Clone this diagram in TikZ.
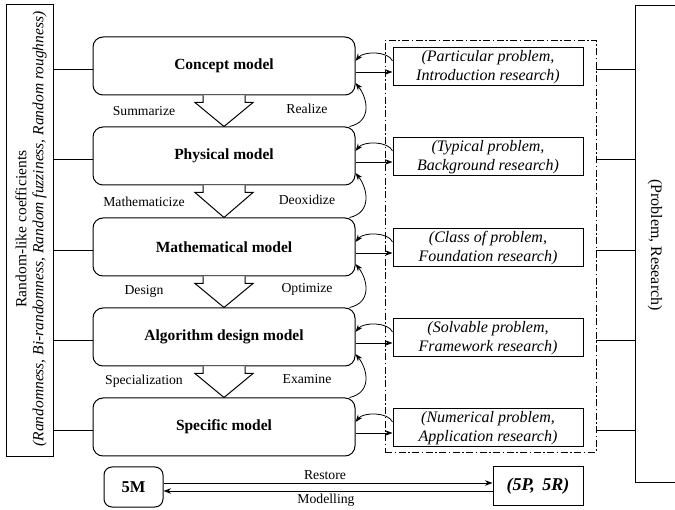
\documentclass[tikz,border=0pt]{standalone}
\usepackage{fontspec}
\setmainfont{Liberation Serif}
\usetikzlibrary{arrows.meta}
\begin{document}
\begin{tikzpicture}[x=1pt,y=1pt,
  mbox/.style={draw, rounded corners=10pt, minimum width=262pt, minimum height=58pt,
    inner sep=0pt, line width=1pt, font=\fontsize{15.5}{18}\selectfont\bfseries},
  pbox/.style={draw, fill=white, minimum width=190pt, minimum height=38pt, inner sep=0pt,
    align=center, line width=1pt, font=\fontsize{16}{19.5}\selectfont\itshape},
  lbl/.style={inner sep=0pt, font=\fontsize{13.7}{16}\selectfont},
  ln/.style={line width=0.8pt},
  arr/.style={ln, -{Stealth[length=7.5pt,width=5.5pt]}},
  hollow/.style={draw, fill=white, line width=1pt, line join=miter},
  grpbox/.style={draw, line width=0.8pt, dash pattern=on 7pt off 2.5pt on 1.5pt off 2.5pt}
]
\useasboundingbox (0,0) rectangle (675,-510);

% coefficient column on the left
\node[draw, line width=1pt, minimum width=47pt, minimum height=452pt, inner sep=0pt] (lbox) at (29.5,-231) {};
\node[rotate=90, align=center, inner sep=0pt, font=\fontsize{15.5}{17}\selectfont] (ltext) at (31,-229)
  {Random-like coefficients\\{\itshape (Randomness,\ Bi-randomness,\ Random fuzziness,\ Random roughness)}};

% the five models
\node[mbox] (m1) at (224,-66)  {Concept model};
\node[mbox] (m2) at (224,-156) {Physical model};
\node[mbox] (m3) at (224,-247) {Mathematical model};
\node[mbox] (m4) at (224,-337) {Algorithm design model};
\node[mbox] (m5) at (224,-427) {Specific model};

% problem / research group
\node[grpbox, minimum width=211pt, minimum height=412pt, inner sep=0pt] (grp) at (490.5,-246) {};
\node[pbox] (p1) at (488,-67)  {(Particular problem,\\Introduction research)};
\node[pbox] (p2) at (488,-157) {(Typical problem,\\Background research)};
\node[pbox] (p3) at (488,-248) {(Class of problem,\\Foundation research)};
\node[pbox] (p4) at (488,-338) {(Solvable problem,\\Framework research)};
\node[pbox] (p5) at (488,-428) {(Numerical problem,\\Application research)};

% bracket on the right
\coordinate (bt0) at (675,-5);
\coordinate (bt) at (635,-5);
\coordinate (bb) at (635,-482);
\coordinate (bb0) at (675,-482);
\draw[ln] (bt0) -- (bt) -- (bb) -- (bb0);
\node[rotate=-90, inner sep=0pt, font=\fontsize{16}{18}\selectfont] (prtext) at (655,-245) {(Problem,\ Research)};

% links from the coefficient column and to the bracket
\foreach \m in {m1,m2,m3,m4,m5}
  \draw[ln] ([yshift=-3pt]\m.west) -- ([yshift=-3pt]\m.west -| lbox.east);
\foreach \p in {p1,p2,p3,p4,p5}
  \draw[ln] ([yshift=-2pt]\p.center -| grp.east) -- ([yshift=-2pt]\p.center -| bt);

% hollow arrows between successive models
\foreach \a/\b in {m1/m2,m2/m3,m3/m4,m4/m5}
  \draw[hollow] ([xshift=-21pt]\a.south) -- ([xshift=-21pt,yshift=-7pt]\a.south)
    -- ([xshift=-29pt,yshift=-7pt]\a.south) -- (\b.north)
    -- ([xshift=29pt,yshift=-7pt]\a.south) -- ([xshift=21pt,yshift=-7pt]\a.south)
    -- ([xshift=21pt]\a.south);

% return arcs between successive models
\foreach \a/\b in {m1/m2,m2/m3,m3/m4,m4/m5}
  \draw[arr] ([xshift=-6pt]\b.north east) .. controls +(23,5) and +(12,-15) .. ([yshift=-17pt]\a.east);

% model <-> problem links
\foreach \m/\p in {m1/p1,m2/p2,m3/p3,m4/p4,m5/p5}{
  \draw[arr] ([yshift=-6pt]\m.east) -- ([yshift=-6pt]\m.east -| \p.west);
  \draw[arr] ([yshift=5pt]\m.east -| \p.west) .. controls +(-4,10) and +(8,10) .. ([yshift=5pt]\m.east);
}

% step labels
\node[lbl] (l1) at (144,-111) {Summarize};
\node[lbl] (r1) at (307,-109) {Realize};
\node[lbl] (l2) at (144,-202) {Mathematicize};
\node[lbl] (r2) at (307,-199.5) {Deoxidize};
\node[lbl] (l3) at (144,-291) {Design};
\node[lbl] (r3) at (307,-289) {Optimize};
\node[lbl] (l4) at (144,-381) {Specialization};
\node[lbl] (r4) at (307,-379) {Examine};

% bottom summary
\node[draw, line width=1pt, rounded corners=8pt, minimum width=59pt, minimum height=40pt, inner sep=0pt,
  font=\fontsize{16.5}{18}\selectfont\bfseries] (fm) at (133.5,-487) {5M};
\node[draw, line width=1pt, minimum width=90pt, minimum height=38pt, inner sep=0pt,
  font=\fontsize{18}{19}\selectfont\bfseries\itshape] (fp) at (538,-486) {(5P,\ \,5R)};
\draw[arr] ([yshift=4pt]fm.east) -- ([yshift=4pt]fm.east -| fp.west);
\draw[arr] ([yshift=-4pt]fm.east -| fp.west) -- ([yshift=-4pt]fm.east);
\node[lbl] (rs) at (325,-475) {Restore};
\node[lbl] (md) at (326,-500) {Modelling};
\end{tikzpicture}
\end{document}
